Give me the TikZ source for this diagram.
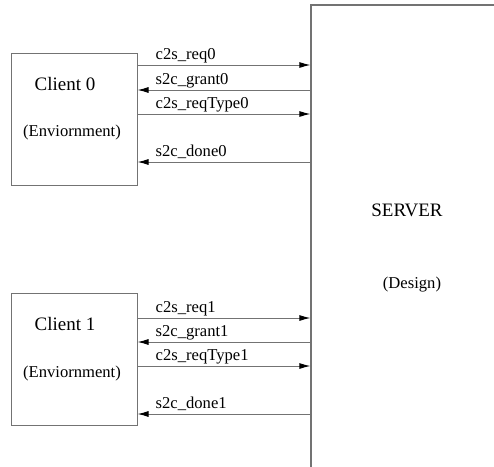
\documentclass[tikz,border=0pt]{standalone}
\usepackage{fontspec}
\setmainfont{Liberation Serif}
\usetikzlibrary{arrows.meta}
\begin{document}
\begin{tikzpicture}[x=1pt,y=-1pt,
    box/.style={draw=black!55, line width=1pt, inner sep=0pt},
    sig/.style={draw=black!55, line width=1pt},
    tip/.style={-{Latex[length=11pt,width=6pt,black]}},
    big/.style={font=\fontsize{19}{22}\selectfont, inner sep=0pt},
    small/.style={font=\fontsize{16.6}{19}\selectfont, inner sep=0pt},
    lbl/.style={small, anchor=base west}]
        \clip (0,0) rectangle (494,466);

        % Server
        \node[box, line width=1.2pt, minimum width=192pt, minimum height=484pt] (srv) at (407,247) {};
        \node[big] (srvname) at (407,210) {SERVER};
        \node[small] (srvkind) at (412,285) {(Design)};

        % Clients and their signals
        \foreach \k/\yc/\ya/\yb/\yt/\yd in {0/119/65/90/114/162, 1/359/318/342/366/414} {
            \node[box, minimum width=126pt, minimum height=132pt] (c\k) at (74,\yc) {};
            \node[big] (c\k name) at (65,{\yc-35}) {Client \k};
            \node[small] (c\k env) at (72,{\yc+14}) {(Enviornment)};

            \draw[sig, tip] (c\k.east |- 0,\ya) -- (srv.west |- 0,\ya);
            \draw[sig, tip] (srv.west |- 0,\yb) -- (c\k.east |- 0,\yb);
            \draw[sig, tip] (c\k.east |- 0,\yt) -- (srv.west |- 0,\yt);
            \draw[sig, tip] (srv.west |- 0,\yd) -- (c\k.east |- 0,\yd);

            \path (c\k.east |- 0,\ya) ++(18,-5.5) node[lbl] (c\k req) {c2s\_req\k};
            \path (c\k.east |- 0,\yb) ++(18,-5.5) node[lbl] (c\k grant) {s2c\_grant\k};
            \path (c\k.east |- 0,\yt) ++(18,-5.5) node[lbl] (c\k type) {c2s\_reqType\k};
            \path (c\k.east |- 0,\yd) ++(18,-5.5) node[lbl] (c\k done) {s2c\_done\k};
        }
    \end{tikzpicture}
\end{document}
